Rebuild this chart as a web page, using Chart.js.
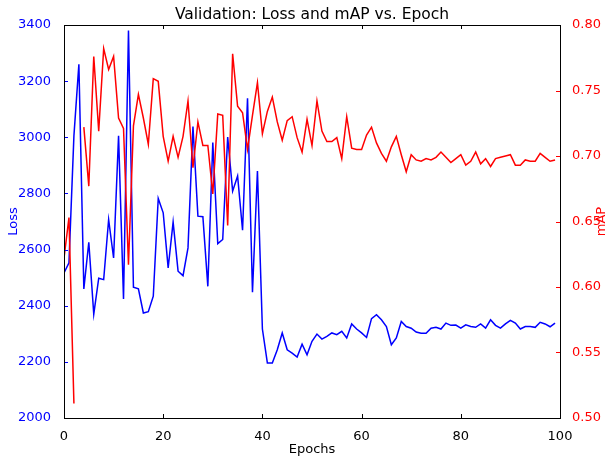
<!DOCTYPE html>
<html>
<head>
<meta charset="utf-8">
<script src="https://cdn.jsdelivr.net/npm/chart.js@4.4.1/dist/chart.umd.min.js"></script>
<style>
html,body{margin:0;padding:0;background:#fff;}
</style>
</head>
<body>
<canvas id="chart" width="610" height="458"></canvas>
<script>
// epoch index of each validation run
const epochs = Array.from({ length: 100 }, (_, i) => i);

const lossValues = [
    2517, 2553, 3005, 3260, 2460, 2626, 2370, 2498, 2493, 2707,
    2570, 3005, 2424, 3380, 2466, 2460, 2374, 2379, 2434, 2782,
    2731, 2535, 2698, 2523, 2507, 2606, 3038, 2719, 2717, 2469,
    2981, 2621, 2636, 3001, 2808, 2862, 2669, 3139, 2448, 2880,
    2317, 2196, 2196, 2243, 2303, 2243, 2231, 2217, 2263, 2225,
    2273, 2299, 2281, 2291, 2303, 2297, 2309, 2285, 2335, 2317,
    2303, 2287, 2354, 2368, 2350, 2326, 2261, 2285, 2344, 2326,
    2320, 2306, 2302, 2302, 2320, 2323, 2317, 2338, 2330, 2331,
    2320, 2332, 2326, 2323, 2335, 2320, 2350, 2330, 2320, 2335,
    2348, 2338, 2317, 2326, 2326, 2323, 2341, 2335, 2325, 2338
];

// epoch 3 has no mAP value (gap in the red line)
const mapValues = [
    0.622, 0.653, 0.511, null,  0.722, 0.677, 0.776, 0.719, 0.782, 0.766,
    0.776, 0.729, 0.721, 0.617, 0.723, 0.747, 0.729, 0.709, 0.759, 0.757,
    0.715, 0.696, 0.715, 0.699, 0.715, 0.742, 0.691, 0.726, 0.708, 0.708,
    0.671, 0.732, 0.731, 0.647, 0.778, 0.738, 0.733, 0.705, 0.731, 0.756,
    0.717, 0.734, 0.745, 0.726, 0.712, 0.727, 0.730, 0.714, 0.703, 0.728,
    0.708, 0.742, 0.719, 0.711, 0.711, 0.714, 0.698, 0.730, 0.706, 0.705,
    0.705, 0.716, 0.722, 0.710, 0.702, 0.696, 0.707, 0.715, 0.701, 0.688,
    0.701, 0.697, 0.696, 0.698, 0.697, 0.699, 0.703, 0.699, 0.695, 0.698,
    0.701, 0.693, 0.696, 0.703, 0.694, 0.698, 0.692, 0.698, 0.699, 0.700,
    0.701, 0.693, 0.693, 0.697, 0.696, 0.696, 0.702, 0.699, 0.696, 0.697
];

const epochTicks = [0, 20, 40, 60, 80, 100];
const lossTicks = [2000, 2200, 2400, 2600, 2800, 3000, 3200, 3400];
const mapTicks = [0.50, 0.55, 0.60, 0.65, 0.70, 0.75, 0.80];

const FONT = "'DejaVu Sans', sans-serif";
const BLUE = "#0000ff";
const RED = "#ff0000";

function useTicks(list){
    return scale => { scale.ticks = list.map(v => ({ value: v })); };
}

// matplotlib-style frame with ticks pointing inwards, plus the right
// axis label which reads bottom-to-top like the left one
const frameTicks = {
    id: "frameTicks",
    afterDatasetsDraw(chart){
        const { ctx, chartArea: a, scales } = chart;
        const len = 4;
        ctx.save();
        ctx.lineWidth = 1;
        function seg(x1, y1, x2, y2, color){
            ctx.strokeStyle = color;
            ctx.beginPath();
            ctx.moveTo(x1, y1);
            ctx.lineTo(x2, y2);
            ctx.stroke();
        }
        scales.x.ticks.forEach(t => {
            const px = Math.round(scales.x.getPixelForValue(t.value)) + 0.5;
            seg(px, a.bottom, px, a.bottom - len, "#000");
            seg(px, a.top, px, a.top + len, "#000");
        });
        scales.y.ticks.forEach(t => {
            const py = Math.round(scales.y.getPixelForValue(t.value)) + 0.5;
            seg(a.left, py, a.left + len, py, BLUE);
        });
        scales.y1.ticks.forEach(t => {
            const py = Math.round(scales.y1.getPixelForValue(t.value)) + 0.5;
            seg(a.right, py, a.right - len, py, RED);
        });
        ctx.strokeStyle = "#000";
        ctx.strokeRect(Math.round(a.left) + 0.5, Math.round(a.top) + 0.5,
            Math.round(a.right - a.left), Math.round(a.bottom - a.top));

        ctx.translate(scales.y1.right - 8, (a.top + a.bottom) / 2);
        ctx.rotate(-Math.PI / 2);
        ctx.fillStyle = RED;
        ctx.font = "13px " + FONT;
        ctx.textAlign = "center";
        ctx.textBaseline = "middle";
        ctx.fillText("mAP", 0, 0);
        ctx.restore();
    }
};

new Chart(document.getElementById("chart"), {
    type: "line",
    data: {
        datasets: [
            {
                label: "mAP",
                data: mapValues.map((v, i) => ({ x: epochs[i], y: v })),
                yAxisID: "y1",
                borderColor: RED,
                borderWidth: 1.5,
                pointRadius: 0,
                tension: 0,
                spanGaps: false,
                order: 0
            },
            {
                label: "Loss",
                data: lossValues.map((v, i) => ({ x: epochs[i], y: v })),
                yAxisID: "y",
                borderColor: BLUE,
                borderWidth: 1.5,
                pointRadius: 0,
                tension: 0,
                order: 1
            }
        ]
    },
    options: {
        responsive: false,
        animation: false,
        devicePixelRatio: 1,
        layout: { padding: 0 },
        plugins: {
            legend: { display: false },
            tooltip: { enabled: false },
            title: {
                display: true,
                text: "Validation: Loss and mAP vs. Epoch",
                fullSize: false,
                color: "#000",
                font: { family: FONT, size: 15.5, weight: "normal" },
                padding: { top: 6, bottom: 0.4 }
            }
        },
        scales: {
            x: {
                type: "linear",
                min: 0,
                max: 100,
                afterBuildTicks: useTicks(epochTicks),
                afterFit: s => { s.height = 40; },
                grid: { display: false },
                border: { display: false },
                ticks: { color: "#000", font: { family: FONT, size: 13 }, padding: 3, maxRotation: 0 },
                title: { display: true, text: "Epochs", color: "#000", font: { family: FONT, size: 13 }, padding: { top: 0, bottom: 1 } }
            },
            y: {
                position: "left",
                min: 2000,
                max: 3400,
                afterBuildTicks: useTicks(lossTicks),
                afterFit: s => { s.width = 64; },
                grid: { display: false },
                border: { display: false },
                ticks: { color: BLUE, font: { family: FONT, size: 13 }, padding: 5, callback: v => String(v) },
                title: { display: true, text: "Loss", color: BLUE, font: { family: FONT, size: 13 }, padding: { top: 6, bottom: 0 } }
            },
            y1: {
                position: "right",
                min: 0.5,
                max: 0.8,
                afterBuildTicks: useTicks(mapTicks),
                afterFit: s => { s.width = 50; },
                grid: { display: false },
                border: { display: false },
                ticks: { color: RED, font: { family: FONT, size: 13 }, padding: 4, callback: v => v.toFixed(2) }
            }
        }
    },
    plugins: [frameTicks]
});
</script>
</body>
</html>
